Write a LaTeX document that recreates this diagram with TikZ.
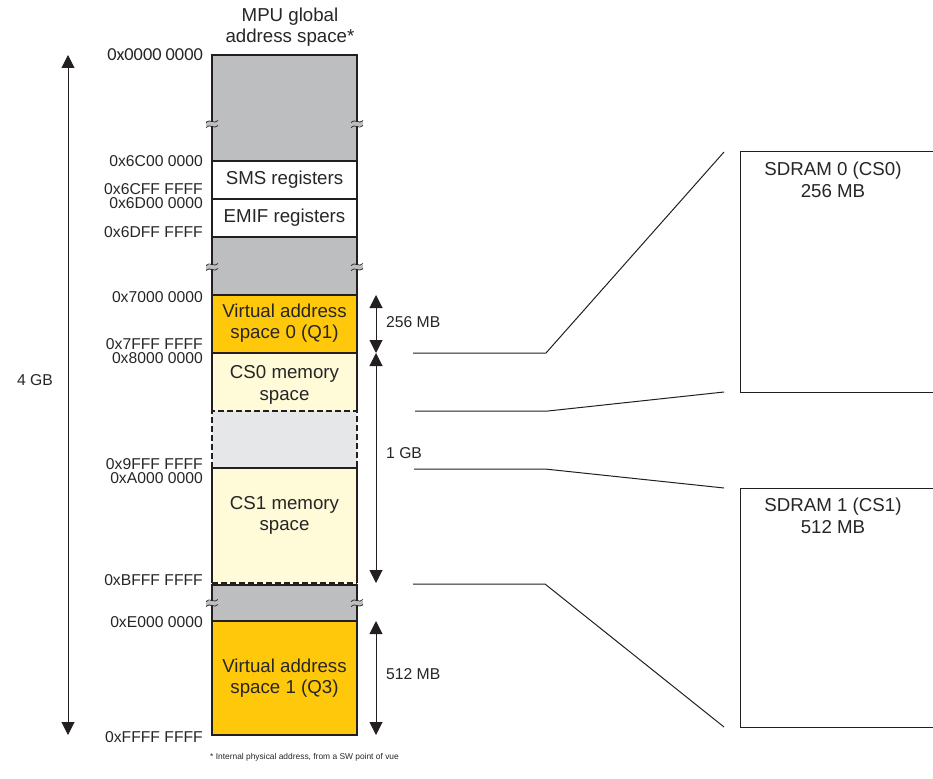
\documentclass[tikz,border=0pt]{standalone}
\usepackage{fontspec}
\setmainfont{Liberation Sans}
\newfontfamily\calib{Carlito}
\usetikzlibrary{arrows.meta}
\definecolor{cgray}{HTML}{BCBEC0}
\definecolor{cyel}{HTML}{FFC80B}
\definecolor{ccream}{HTML}{FFFAD7}
\definecolor{clgray}{HTML}{E6E7E8}
\definecolor{cline}{HTML}{231F20}
\newcommand\mybreak[2]{%
  \fill[cgray] (#1-6,#2-2.5) rectangle (#1+6,#2+2.5);
  \draw[cline,line width=0.7pt] (#1-6,#2-1.5) .. controls (#1-2,#2-6) and (#1+2,#2+1) .. (#1+6,#2-3.5);
  \draw[cline,line width=0.7pt] (#1-6,#2+3.5) .. controls (#1-2,#2-1) and (#1+2,#2+6) .. (#1+6,#2+1.5);
}
\begin{document}
\begin{tikzpicture}[x=1pt,y=-1pt,
  blk/.style={rectangle,minimum width=145pt,inner sep=0pt,outer sep=0pt,draw=cline,line width=1.2pt},
  bd/.style={draw=cline,line width=1.2pt},
  btxt/.style={align=center,font=\fontsize{18.7}{21.5}\selectfont,text=black!85,inner sep=0pt},
  atxt/.style={anchor=east,font=\fontsize{15.7}{15.7}\selectfont,text=black!85,inner sep=0pt},
  stxt/.style={anchor=west,font=\fontsize{15.7}{15.7}\selectfont,text=black!85,inner sep=0pt},
  arr/.style={{Triangle[width=13pt,length=13pt]}-{Triangle[width=13pt,length=13pt]},line width=1pt,draw=cline},
  conn/.style={draw=cline,line width=1pt}]
\useasboundingbox (0,0) rectangle (933,778);

% title
\node[btxt] (title) at (290,27) {MPU global\\address space*};

% blocks
\node[blk,fill=cgray,minimum height=106pt] (g1) at (284.5,108) {};
\node[blk,fill=white,minimum height=38pt] (sms) at (284.5,180) {};
\node[btxt] (smst) at (284.5,180) {SMS registers};
\node[blk,fill=white,minimum height=38pt] (emif) at (284.5,218) {};
\node[btxt] (emift) at (284.5,218) {EMIF registers};
\node[blk,fill=cgray,minimum height=58pt] (g2) at (284.5,266) {};
\node[blk,fill=cyel,minimum height=58pt] (v0) at (284.5,324) {};
\node[btxt] (v0t) at (284.5,323) {Virtual address\\space 0 (Q1)};

\node[blk,draw=none,fill=ccream,minimum height=58pt] (cs0) at (284.5,382) {};
\node[btxt] (cs0t) at (284.5,385) {CS0 memory\\space};
\draw[bd] (cs0.south west) -- (cs0.north west) -- (cs0.north east) -- (cs0.south east);

\node[blk,draw=none,fill=clgray,minimum height=57pt] (lg) at (284.5,439.5) {};
\draw[bd,dash pattern=on 6pt off 3pt] (lg.south west) -- (lg.north west) -- (lg.north east) -- (lg.south east);

\node[blk,draw=none,fill=ccream,minimum height=115pt] (cs1) at (284.5,525.5) {};
\node[btxt] (cs1t) at (284.5,515.5) {CS1 memory\\space};
\draw[bd] (cs1.south west) -- (cs1.north west) -- (cs1.north east) -- (cs1.south east);
\draw[bd,dash pattern=on 6pt off 3pt] (cs1.south west) -- (cs1.south east);

\node[blk,fill=cgray,minimum height=36pt] (g3) at (284.5,603) {};
\node[blk,fill=cyel,minimum height=114pt] (v1) at (284.5,678) {};
\node[btxt] (v1t) at (284.5,678) {Virtual address\\space 1 (Q3)};

% break marks
\mybreak{212}{124}\mybreak{357}{124}
\mybreak{212}{267}\mybreak{357}{267}
\mybreak{212}{603}\mybreak{357}{603}

% addresses
\node[atxt,font=\calib\fontsize{18.3}{18.3}\selectfont] (a0) at (203,55) {0x0000 0000};
\node[atxt] (a1) at (203,161) {0x6C00 0000};
\node[atxt] (a2) at (203,189) {0x6CFF FFFF};
\node[atxt] (a3) at (203,203) {0x6D00 0000};
\node[atxt] (a4) at (203,232) {0x6DFF FFFF};
\node[atxt] (a5) at (203,297) {0x7000 0000};
\node[atxt] (a6) at (203,344) {0x7FFF FFFF};
\node[atxt] (a7) at (203,358) {0x8000 0000};
\node[atxt] (a8) at (203,464) {0x9FFF FFFF};
\node[atxt] (a9) at (203,478) {0xA000 0000};
\node[atxt] (a10) at (203,580) {0xBFFF FFFF};
\node[atxt] (a11) at (203,622) {0xE000 0000};
\node[atxt] (a12) at (203,737) {0xFFFF FFFF};

% size arrows
\coordinate (t4) at (68,55); \coordinate (b4) at (68,735);
\draw[arr] (t4) -- (b4);
\node[stxt,anchor=center] (l4) at (35,380) {4 GB};
\coordinate (t256) at (376,295); \coordinate (b256) at (376,353);
\draw[arr] (t256) -- (b256);
\node[stxt] (l256) at (386,322) {256 MB};
\coordinate (t1g) at (376,353); \coordinate (b1g) at (376,583);
\draw[arr] (t1g) -- (b1g);
\node[stxt] (l1g) at (386,453) {1 GB};
\coordinate (t512) at (376,621); \coordinate (b512) at (376,735);
\draw[arr] (t512) -- (b512);
\node[stxt] (l512) at (386,674) {512 MB};

% SDRAM boxes (open on the right)
\coordinate (s0tl) at (740,152); \coordinate (s0bl) at (740,392);
\draw[conn] (933,152) -- (s0tl) -- (s0bl) -- (933,392);
\node[btxt] (s0t) at (833,180) {SDRAM 0 (CS0)\\256 MB};
\coordinate (s1tl) at (740,488); \coordinate (s1bl) at (740,727);
\draw[conn] (933,488) -- (s1tl) -- (s1bl) -- (933,727);
\node[btxt] (s1t) at (833,516) {SDRAM 1 (CS1)\\512 MB};

% connectors
\coordinate (c1a) at (413,353); \coordinate (c1b) at (546,353); \coordinate (c1c) at (724,152);
\draw[conn] (c1a) -- (c1b) -- (c1c);
\coordinate (c2a) at (415,411); \coordinate (c2b) at (548,411); \coordinate (c2c) at (724,392);
\draw[conn] (c2a) -- (c2b) -- (c2c);
\coordinate (c3a) at (414,469); \coordinate (c3b) at (545,469); \coordinate (c3c) at (724,488);
\draw[conn] (c3a) -- (c3b) -- (c3c);
\coordinate (c4a) at (413,584); \coordinate (c4b) at (545,584); \coordinate (c4c) at (724,727);
\draw[conn] (c4a) -- (c4b) -- (c4c);

% footnote
\node[anchor=west,font=\fontsize{8.4}{8.4}\selectfont,inner sep=0pt,text=black!85] (fn) at (210,757) {* Internal physical address, from a SW point of vue};
\end{tikzpicture}
\end{document}
